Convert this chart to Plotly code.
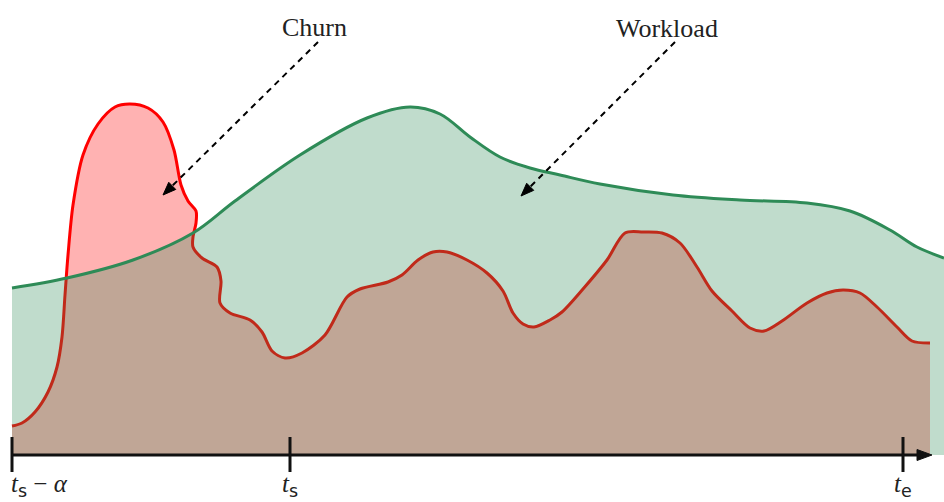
import math
import plotly.graph_objects as go

# ---- data (x in time units, y = height above the time axis) ----
churn_x = [12, 22, 35, 48, 57, 62, 65, 68, 73, 83, 98, 115, 130, 148, 163, 174, 181, 188,
           196, 196, 193, 193, 202, 217, 221, 220, 230, 250, 262, 272, 285, 302, 325, 347,
           360, 388, 402, 418, 433, 447, 467, 487, 503, 513, 523, 534, 550, 562, 583, 607,
           625, 643, 662, 680, 697, 712, 732, 750, 764, 782, 807, 827, 843, 860, 877, 897,
           912, 930]
churn_y = [29, 32, 43, 63, 88, 118, 160, 200, 250, 300, 331, 348, 351, 347, 333, 305, 270, 254,
           244, 232, 218, 208, 197, 188, 174, 152, 142, 135, 123, 104, 97, 102, 120, 158,
           166, 173, 180, 195, 203, 203, 195, 182, 164, 142, 131, 128, 135, 143, 166, 195,
           222, 223, 222, 212, 188, 164, 144, 127, 124, 134, 152, 162, 165, 162, 148, 128,
           114, 112]

workload_x = [12, 67, 133, 193, 235, 300, 367, 410, 440, 470, 500, 530, 560, 600, 673, 740,
              807, 850, 890, 917, 944]
workload_y = [167, 177, 195, 222, 254, 300, 337, 348, 341, 318, 298, 287, 280, 271, 260, 255,
              252, 244, 225, 208, 197]

tick_vals = [12, 290, 903]
tick_text = ["<i>t</i><sub><span style=\"font-family:'DejaVu Sans'\">s</span></sub> \u2212 <i>\u03b1</i>",
             "<i>t</i><sub><span style=\"font-family:'DejaVu Sans'\">s</span></sub>",
             "<i>t</i><sub><span style=\"font-family:'DejaVu Sans'\">e</span></sub>"]
tick_anchor = ["left", "center", "center"]

labels = ["Churn", "Workload"]
label_pos = [(314, 428), (667, 427)]
arrow_start = [(318, 413), (675, 413)]
arrow_tip = [(163, 260), (521, 259)]

X_MIN, X_MAX = 0, 944
Y_MIN, Y_MAX = -47, 455
AXIS_END = 932

fig = go.Figure()

fig.add_trace(go.Scatter(
    x=churn_x, y=churn_y, mode="lines",
    line=dict(color="#ff0000", width=3, shape="spline", smoothing=0.85),
    fill="tozeroy", fillcolor="rgba(255,0,0,0.3)", hoverinfo="skip", showlegend=False))

fig.add_trace(go.Scatter(
    x=workload_x, y=workload_y, mode="lines",
    line=dict(color="#2e8b57", width=3, shape="spline", smoothing=1.0),
    fill="tozeroy", fillcolor="rgba(46,139,87,0.3)", hoverinfo="skip", showlegend=False))

shapes = []
# time axis
shapes.append(dict(type="line", xref="x", yref="y", x0=tick_vals[0], x1=AXIS_END - 12,
                   y0=0, y1=0, line=dict(color="#111", width=3)))
shapes.append(dict(type="path", xref="x", yref="y",
                   path=f"M{AXIS_END},0 L{AXIS_END-15},5.5 L{AXIS_END-15},-5.5 Z",
                   fillcolor="#111", line=dict(color="#111", width=1)))
for tv in tick_vals:
    shapes.append(dict(type="line", xref="x", yref="y", x0=tv, x1=tv, y0=18, y1=-17,
                       line=dict(color="#111", width=3)))

# dashed pointer arrows
for (sx, sy), (tx, ty) in zip(arrow_start, arrow_tip):
    dx, dy = tx - sx, ty - sy
    L = math.hypot(dx, dy)
    ux, uy = dx / L, dy / L
    bx, by = tx - 13 * ux, ty - 13 * uy
    px, py = -uy, ux
    shapes.append(dict(type="line", xref="x", yref="y", x0=sx, y0=sy, x1=bx, y1=by,
                       line=dict(color="black", width=2, dash="6px,5px")))
    shapes.append(dict(type="path", xref="x", yref="y",
                       path=f"M{tx},{ty} L{bx+5*px},{by+5*py} L{bx-5*px},{by-5*py} Z",
                       fillcolor="black", line=dict(color="black", width=1)))

annotations = []
for lab, (lx, ly) in zip(labels, label_pos):
    annotations.append(dict(x=lx, y=ly, xref="x", yref="y", text=lab, showarrow=False,
                            font=dict(family="Liberation Serif", size=26, color="#222")))
for tv, tt, anc in zip(tick_vals, tick_text, tick_anchor):
    annotations.append(dict(x=tv - (3 if anc == "left" else 0), y=-30, xref="x", yref="y",
                            text=tt, showarrow=False, xanchor=anc, yanchor="middle",
                            font=dict(family="Liberation Serif", size=25, color="#222")))

fig.update_layout(
    width=944, height=502, margin=dict(l=0, r=0, t=0, b=0),
    paper_bgcolor="white", plot_bgcolor="white",
    xaxis=dict(range=[X_MIN, X_MAX], visible=False, fixedrange=True),
    yaxis=dict(range=[Y_MIN, Y_MAX], visible=False, fixedrange=True),
    shapes=shapes, annotations=annotations, showlegend=False)

fig.write_html("out.html", config={"displayModeBar": False},
               post_script="document.body.style.margin='0';document.body.style.overflow='hidden';")
